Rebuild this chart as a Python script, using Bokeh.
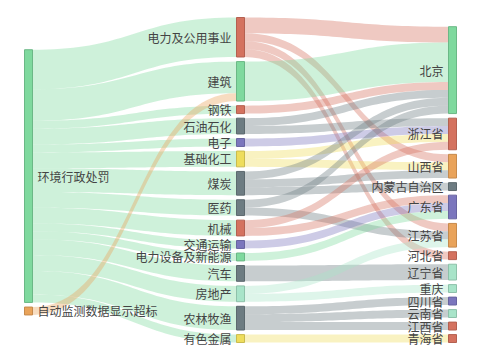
import numpy as np
from bokeh.plotting import figure
from bokeh.models import Range1d, ColumnDataSource
from bokeh.embed import file_html
from bokeh.resources import INLINE
from bokeh.core.properties import value

# ---------------- data ----------------
origins = ["环境行政处罚", "自动监测数据显示超标"]
industries = ["电力及公用事业", "建筑", "钢铁", "石油石化", "电子", "基础化工", "煤炭", "医药",
              "机械", "交通运输", "电力设备及新能源", "汽车", "房地产", "农林牧渔", "有色金属"]
provinces = ["北京", "浙江省", "山西省", "内蒙古自治区", "广东省", "江苏省", "河北省", "辽宁省",
             "重庆", "四川省", "云南省", "江西省", "青海省"]

link_source = (["环境行政处罚"] * 15 + ["自动监测数据显示超标"]
               + ["电力及公用事业"] * 4 + ["建筑", "钢铁"] + ["石油石化"] * 2 + ["电子"]
               + ["基础化工"] * 2 + ["煤炭"] * 3 + ["医药"] * 2 + ["机械"] * 2
               + ["交通运输", "电力设备及新能源", "汽车"] + ["房地产"] * 2 + ["农林牧渔"] * 3
               + ["有色金属"])
link_target = (industries + ["建筑"]
               + ["北京", "山西省", "江苏省", "河北省", "北京", "北京", "北京", "浙江省", "浙江省",
                  "浙江省", "山西省", "北京", "山西省", "内蒙古自治区", "北京", "江苏省",
                  "浙江省", "广东省", "广东省", "广东省", "辽宁省", "江苏省", "重庆",
                  "四川省", "云南省", "江西省", "青海省"])
link_value = ([5, 4, 1, 2, 1, 2, 3, 2, 2, 1, 1, 2, 2, 3, 1] + [1]
              + [2, 1, 1, 1, 5, 1, 1, 1, 1, 1, 1, 1, 1, 1, 1, 1, 1, 1, 1, 1, 2, 1, 1, 1, 1, 1, 1])

GREEN, RED, GRAY, PURPLE, YELLOW, ORANGE, AQUA = (
    "#7fd99e", "#d4725f", "#6d7c82", "#7b76bd", "#eedd5c", "#e9a35a", "#a8e4c9")
node_colors = {
    "环境行政处罚": GREEN, "自动监测数据显示超标": ORANGE,
    "电力及公用事业": RED, "建筑": GREEN, "钢铁": RED, "石油石化": GRAY, "电子": PURPLE,
    "基础化工": YELLOW, "煤炭": GRAY, "医药": GRAY, "机械": RED, "交通运输": PURPLE,
    "电力设备及新能源": GREEN, "汽车": GRAY, "房地产": AQUA, "农林牧渔": GRAY, "有色金属": YELLOW,
    "北京": GREEN, "浙江省": RED, "山西省": ORANGE, "内蒙古自治区": GRAY, "广东省": PURPLE,
    "江苏省": ORANGE, "河北省": RED, "辽宁省": AQUA, "重庆": AQUA, "四川省": PURPLE,
    "云南省": AQUA, "江西省": RED, "青海省": RED,
}

# ---------------- sankey layout (order preserving relaxation) ----------------
LEFT, TOP, WIDTH, HEIGHT = 24.0, 17.0, 432.0, 325.0
NODE_W, GAP, ITER = 8.0, 4.6, 32

names = origins + industries + provinces
N = len(names)
ix = {n: i for i, n in enumerate(names)}
edges = [dict(s=ix[s], t=ix[t], v=float(v)) for s, t, v in zip(link_source, link_target, link_value)]
ins = [[] for _ in range(N)]
outs = [[] for _ in range(N)]
for e in edges:
    outs[e["s"]].append(e)
    ins[e["t"]].append(e)
val = [max(sum(e["v"] for e in ins[i]), sum(e["v"] for e in outs[i])) for i in range(N)]

depth = [0] * N
changed = True
while changed:
    changed = False
    for e in edges:
        if depth[e["t"]] < depth[e["s"]] + 1:
            depth[e["t"]] = depth[e["s"]] + 1
            changed = True
maxd = max(depth)
for i in range(N):
    if not outs[i]:
        depth[i] = maxd
kx = (WIDTH - NODE_W) / maxd
X = [depth[i] * kx for i in range(N)]
Y = [0.0] * N
DY = [0.0] * N

layers = [[i for i in range(N) if depth[i] == d] for d in range(maxd + 1)]
ky = min((HEIGHT - (len(L) - 1) * GAP) / sum(val[i] for i in L) for L in layers)
for L in layers:
    for k, i in enumerate(L):
        Y[i] = float(k)
        DY[i] = val[i] * ky
for e in edges:
    e["dy"] = e["v"] * ky


def center(i):
    return Y[i] + DY[i] / 2


def resolve():
    for L in layers:
        y0 = 0.0
        for i in L:
            d = y0 - Y[i]
            if d > 0:
                Y[i] += d
            y0 = Y[i] + DY[i] + GAP
        d = y0 - GAP - HEIGHT
        if d > 0:
            last = L[-1]
            Y[last] -= d
            y0 = Y[last]
            for i in reversed(L[:-1]):
                d = Y[i] + DY[i] + GAP - y0
                if d > 0:
                    Y[i] -= d
                y0 = Y[i]


resolve()
alpha = 1.0
for _ in range(ITER):
    alpha *= 0.99
    for L in reversed(layers):
        for i in L:
            if outs[i]:
                y = sum(center(e["t"]) * e["v"] for e in outs[i]) / sum(e["v"] for e in outs[i])
                Y[i] += (y - center(i)) * alpha
    resolve()
    for L in layers:
        for i in L:
            if ins[i]:
                y = sum(center(e["s"]) * e["v"] for e in ins[i]) / sum(e["v"] for e in ins[i])
                Y[i] += (y - center(i)) * alpha
    resolve()

for i in range(N):
    outs[i].sort(key=lambda e: Y[e["t"]])
    ins[i].sort(key=lambda e: Y[e["s"]])
    sy = 0.0
    for e in outs[i]:
        e["sy"] = sy
        sy += e["dy"]
    ty = 0.0
    for e in ins[i]:
        e["ty"] = ty
        ty += e["dy"]


def darker(c, f=0.85):
    r, g, b = int(c[1:3], 16), int(c[3:5], 16), int(c[5:7], 16)
    return "#%02x%02x%02x" % (int(r * f), int(g * f), int(b * f))


# ---------------- link shapes ----------------
t = np.linspace(0, 1, 40)
lx, ly, lc = [], [], []
for e in edges:
    s, d = e["s"], e["t"]
    x1 = LEFT + X[s] + NODE_W
    x2 = LEFT + X[d]
    y1 = TOP + Y[s] + e["sy"]
    y2 = TOP + Y[d] + e["ty"]
    c1 = x1 * 0.5 + x2 * 0.5
    bx = (1 - t) ** 3 * x1 + 3 * (1 - t) ** 2 * t * c1 + 3 * (1 - t) * t ** 2 * c1 + t ** 3 * x2
    by = (1 - t) ** 3 * y1 + 3 * (1 - t) ** 2 * t * y1 + 3 * (1 - t) * t ** 2 * y2 + t ** 3 * y2
    lx.append(list(bx) + list(bx[::-1]))
    ly.append(list(by) + list((by + e["dy"])[::-1]))
    lc.append(node_colors[names[s]])

p = figure(width=480, height=360, output_backend="svg", toolbar_location=None,
           x_range=Range1d(0, 480), y_range=Range1d(360, 0), min_border=0)
p.axis.visible = False
p.grid.visible = False
p.outline_line_color = None
p.background_fill_color = "white"

p.patches(xs=lx, ys=ly, fill_color=lc, fill_alpha=0.38, line_color=None)

nsrc = ColumnDataSource(dict(
    left=[LEFT + X[i] for i in range(N)], right=[LEFT + X[i] + NODE_W for i in range(N)],
    top=[TOP + Y[i] for i in range(N)], bottom=[TOP + Y[i] + DY[i] for i in range(N)],
    fill=[node_colors[n] for n in names], line=[darker(node_colors[n]) for n in names]))
p.quad(left="left", right="right", top="top", bottom="bottom", source=nsrc,
       fill_color="fill", line_color="line", line_width=1)

# labels
rl = [i for i in range(N) if depth[i] == 0]
ll = [i for i in range(N) if depth[i] > 0]
p.text(x=[LEFT + X[i] + NODE_W + 5 for i in rl], y=[TOP + center(i) for i in rl],
       text=[names[i] for i in rl], text_align="left", text_baseline="middle",
       text_font=value("Noto Sans CJK SC"), text_font_size="12px", text_color="#444444")
p.text(x=[LEFT + X[i] - 5 for i in ll], y=[TOP + center(i) for i in ll],
       text=[names[i] for i in ll], text_align="right", text_baseline="middle",
       text_font=value("Noto Sans CJK SC"), text_font_size="12px", text_color="#444444")

open("out.html", "w").write(file_html(p, INLINE))
